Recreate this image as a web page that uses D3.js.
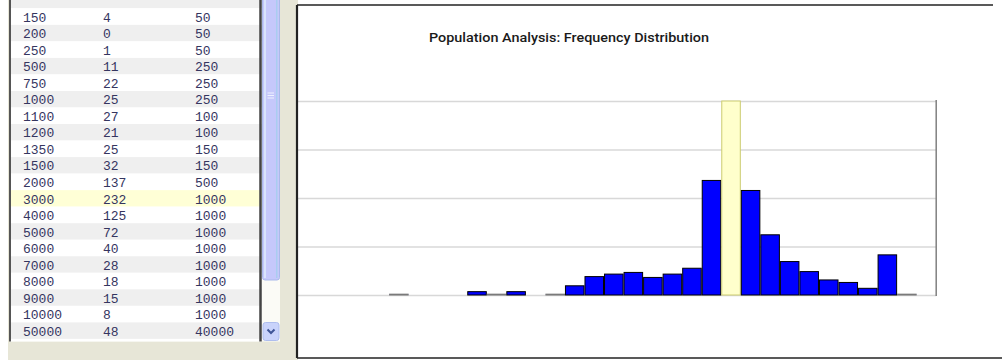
<!DOCTYPE html>
<html>
<head>
<meta charset="utf-8">
<script src="https://cdn.jsdelivr.net/npm/d3@7"></script>
<style>
  body { margin: 0; background: #ffffff; }
  svg { display: block; }
</style>
</head>
<body>
<div id="app"></div>
<script>
// Bin upper edges (the table rows), counts and bin widths
const binEdges = [1, 2, 5, 10, 15, 20, 25, 30, 40, 50, 100, 150, 200, 250, 500, 750, 1000, 1100, 1200,
  1350, 1500, 2000, 3000, 4000, 5000, 6000, 7000, 8000, 9000, 10000, 50000, 100000, 'More'];
const binCounts = [0, 0, 0, 0, 0, 1, 0, 0, 0, 4, 1, 4, 0, 1, 11, 22, 25, 27, 21,
  25, 32, 137, 232, 125, 72, 40, 28, 18, 15, 8, 48, 1, 0];
const binWidths = [1, 1, 3, 5, 5, 5, 5, 5, 10, 10, 50, 50, 50, 50, 250, 250, 250, 100, 100,
  150, 150, 500, 1000, 1000, 1000, 1000, 1000, 1000, 1000, 1000, 40000, 50000, 0];
const yTicks = [0, 58, 116, 174, 232];
const selectedBin = '3000';
const firstVisibleRow = 11;
const chartTitle = 'Population Analysis: Frequency Distribution';

const W = 1002, H = 360;
const beige = '#e7e6d7';

const svg = d3.select('#app').append('svg')
  .attr('width', W)
  .attr('height', H);

const rows = binEdges.map((e, i) => ({
  i, edge: String(e), count: binCounts[i], width: binWidths[i]
}));

// ---- left: table panel ----
svg.append('rect').attr('x', 8).attr('y', 0).attr('width', 290).attr('height', H).attr('fill', beige);

const table = { x: 10, y: 0, w: 252, h: 341.5, rowH: 16.53, top: 8.3 };
svg.append('clipPath').attr('id', 'tclip')
  .append('rect').attr('x', table.x).attr('y', table.y).attr('width', table.w).attr('height', table.h);

const tg = svg.append('g').attr('clip-path', 'url(#tclip)');
tg.append('rect').attr('x', table.x).attr('y', 0).attr('width', table.w).attr('height', table.h).attr('fill', '#fff');

const rowY = i => table.top + (i - firstVisibleRow) * table.rowH;
const shown = rows.filter(d => d.i >= firstVisibleRow - 1 && d.edge !== 'More');

const rowG = tg.selectAll('g.row')
  .data(shown)
  .enter()
  .append('g')
  .attr('class', 'row')
  .attr('transform', d => `translate(0,${rowY(d.i)})`);

rowG.append('rect')
  .attr('x', table.x)
  .attr('width', table.w)
  .attr('height', table.rowH)
  .attr('fill', d => d.edge === selectedBin ? '#ffffd6' : (d.i % 2 === 0 ? '#efefef' : '#ffffff'));

// only rows that are fully scrolled into view get their text
const cols = [['edge', 23], ['count', 103], ['width', 195]];
cols.forEach(([key, cx]) => {
  rowG.filter(d => d.i >= firstVisibleRow)
    .append('text')
    .attr('x', cx)
    .attr('y', 13.4)
    .attr('font-family', '"Liberation Mono", "DejaVu Sans Mono", monospace')
    .attr('font-size', '13px')
    .attr('fill', '#35355f')
    .text(d => d[key]);
});

// table borders
svg.append('line').attr('x1', 10).attr('x2', 10).attr('y1', 0).attr('y2', 341.5)
  .attr('stroke', '#555').attr('stroke-width', 2);
svg.append('line').attr('x1', 260.5).attr('x2', 260.5).attr('y1', 0).attr('y2', 341.5)
  .attr('stroke', '#444').attr('stroke-width', 2.5);

// scrollbar
const sb = svg.append('g');
sb.append('rect').attr('x', 262).attr('y', 0).attr('width', 18).attr('height', 341.5).attr('fill', '#fbfbf6');
sb.append('rect').attr('x', 262.5).attr('y', -6).attr('width', 17).attr('height', 286).attr('rx', 2.5)
  .attr('fill', '#c5c8fb').attr('stroke', '#aab9ea');
sb.append('rect').attr('x', 264).attr('y', 0).attr('width', 2).attr('height', 278).attr('fill', '#d9e4fc');
sb.append('rect').attr('x', 276).attr('y', 0).attr('width', 1.5).attr('height', 278).attr('fill', '#a9cdf0');
[93, 95.5, 98].forEach(gy => {
  sb.append('line').attr('x1', 267.5).attr('x2', 274).attr('y1', gy).attr('y2', gy)
    .attr('stroke', '#eef1ff').attr('stroke-width', 1);
});
sb.append('rect').attr('x', 263).attr('y', 322.5).attr('width', 16).attr('height', 18).attr('rx', 2.5)
  .attr('fill', '#c9d3fb').attr('stroke', '#aebdee');
sb.append('path').attr('d', 'M267.5,329.5 L271,333 L274.5,329.5')
  .attr('fill', 'none').attr('stroke', '#3f5597').attr('stroke-width', 2);

// ---- right: chart panel ----
const panel = { x: 297, y: 5, r: 1002, b: 358 };
svg.append('rect').attr('x', panel.x).attr('y', panel.y)
  .attr('width', panel.r - panel.x).attr('height', panel.b - panel.y).attr('fill', '#fff');

svg.append('clipPath').attr('id', 'pclip')
  .append('rect').attr('x', panel.x + 1).attr('y', panel.y).attr('width', panel.r - panel.x).attr('height', panel.b - panel.y);

const chart = svg.append('g').attr('clip-path', 'url(#pclip)');

const x = d3.scaleBand()
  .domain(rows.map(d => d.edge))
  .range([291.4, 936.2])
  .padding(0);

const y = d3.scaleLinear()
  .domain([0, d3.max(yTicks)])
  .range([295, 101]);

// horizontal grid lines
chart.append('g')
  .attr('transform', 'translate(936.2,0)')
  .call(d3.axisLeft(y)
    .tickValues(yTicks)
    .tickSize(936.2 - panel.x)
    .tickFormat(''))
  .call(g => g.select('.domain').remove())
  .selectAll('line')
  .attr('stroke', '#d8d8d8')
  .attr('stroke-width', 1.6);

// right edge of the plot area
chart.append('line')
  .attr('x1', x.range()[1]).attr('x2', x.range()[1])
  .attr('y1', y(d3.max(yTicks)) - 1).attr('y2', y(0) + 1)
  .attr('stroke', '#808080').attr('stroke-width', 1.5);

// bars (single-count bins are barely a pixel tall and read as grey)
chart.append('g')
  .selectAll('rect')
  .data(rows.filter(d => d.count > 0))
  .enter()
  .append('rect')
  .attr('x', d => x(d.edge) + 0.5)
  .attr('y', d => y(d.count))
  .attr('width', x.bandwidth() - 1)
  .attr('height', d => y(0) - y(d.count))
  .attr('fill', d => d.edge === selectedBin ? '#ffffcc' : '#0000ff')
  .attr('stroke', d => d.edge === selectedBin ? '#cccc70' : (d.count < 2 ? '#7a7a7a' : '#000'))
  .attr('stroke-width', 1);

// title
chart.append('text')
  .attr('x', 429)
  .attr('y', 41.5)
  .attr('font-family', 'Roboto, "Liberation Sans", Arial, sans-serif')
  .attr('font-weight', 500)
  .attr('font-size', '13px')
  .attr('fill', '#1a1a1a')
  .attr('textLength', 280)
  .attr('lengthAdjust', 'spacingAndGlyphs')
  .text(chartTitle);

// panel border
svg.append('line').attr('x1', panel.x).attr('x2', panel.x).attr('y1', panel.y).attr('y2', panel.b)
  .attr('stroke', '#222').attr('stroke-width', 2.2);
svg.append('line').attr('x1', panel.x).attr('x2', 993).attr('y1', panel.y).attr('y2', panel.y)
  .attr('stroke', '#222').attr('stroke-width', 1.6);
svg.append('line').attr('x1', panel.x).attr('x2', W).attr('y1', panel.b).attr('y2', panel.b)
  .attr('stroke', '#222').attr('stroke-width', 1.6);
</script>
</body>
</html>
